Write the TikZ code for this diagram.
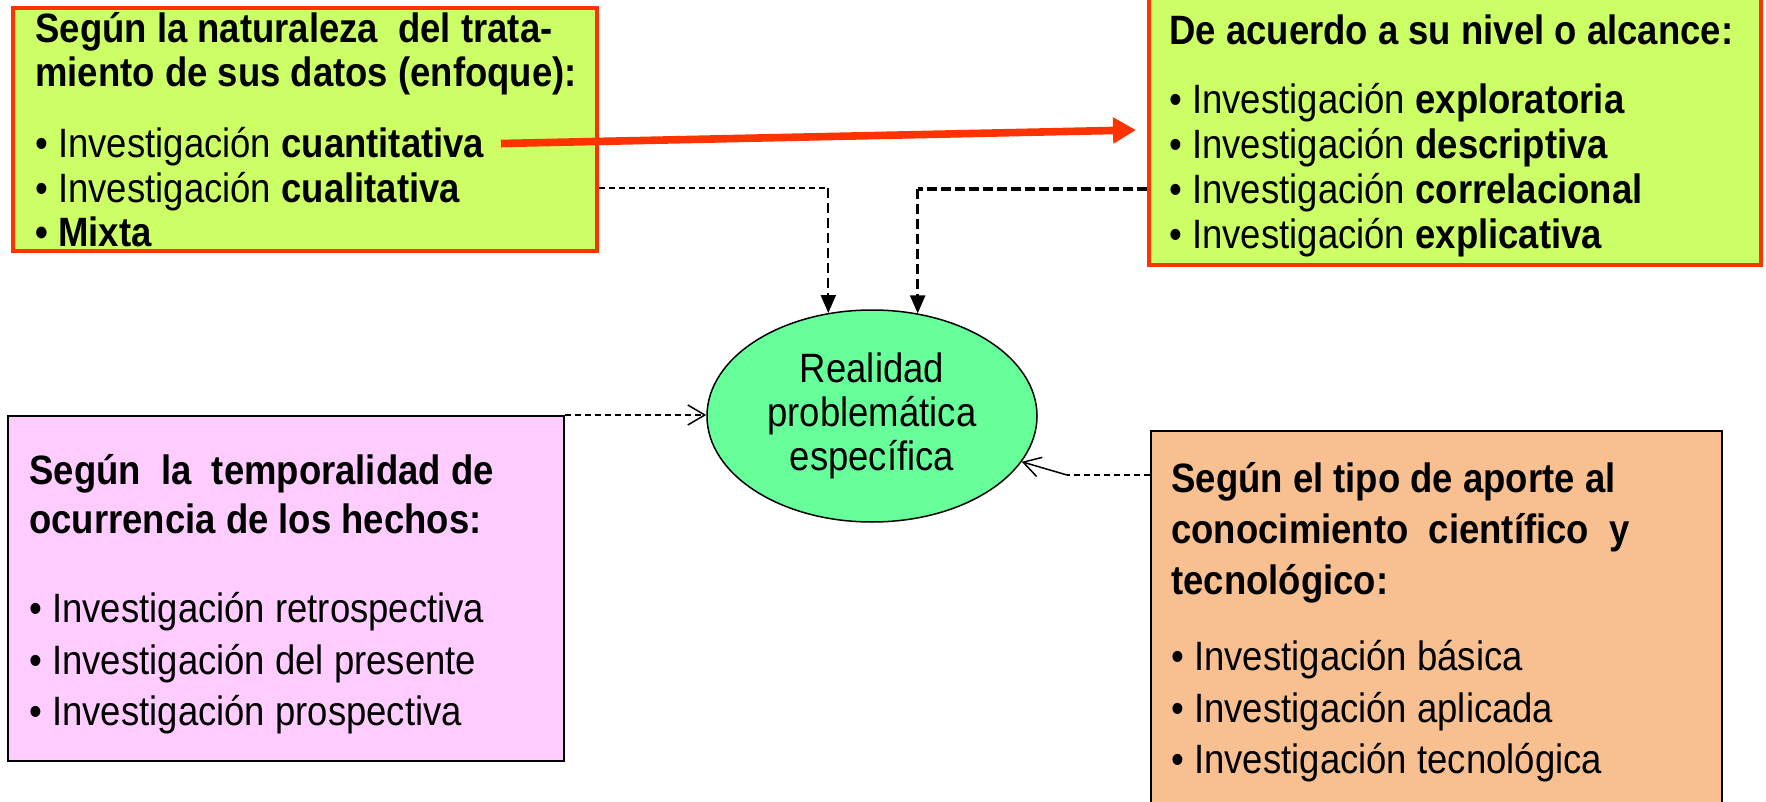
\documentclass[tikz,border=0pt]{standalone}
\usepackage{fontspec}
\setmainfont{Liberation Sans}[FakeStretch=0.89]
\usetikzlibrary{arrows.meta,shapes.geometric,calc}

\definecolor{limefill}{HTML}{CCFF66}
\definecolor{redline}{HTML}{FF3300}
\definecolor{pinkfill}{HTML}{FFCCFF}
\definecolor{peachfill}{HTML}{F8C090}
\definecolor{mintfill}{HTML}{66FF99}

\begin{document}
\begin{tikzpicture}[x=0.5pt,y=-0.5pt,
  txt/.style={anchor=base west, inner sep=0pt, font=\fontsize{20.5pt}{22pt}\selectfont},
  redbox/.style={draw=redline, line width=2pt, fill=limefill, inner sep=0pt},
  plainbox/.style={draw=black, line width=1pt, inner sep=0pt},
  ovalbox/.style={ellipse, draw=black, line width=0.75pt, fill=mintfill, inner sep=0pt,
    minimum width=165pt, minimum height=106pt, align=center,
    font=\fontsize{20.5pt}{22pt}\selectfont},
  thinh/.style={line width=1pt, dash pattern=on 3pt off 2pt},
  thinv/.style={line width=1pt, dash pattern=on 5pt off 2.5pt, -{Triangle[length=9pt,width=7.5pt]}},
  thickh/.style={line width=2pt, dash pattern=on 5pt off 2pt},
  sidelink/.style={line width=0.75pt, dash pattern=on 3pt off 2pt},
  barb/.style={-{Straight Barb[length=8.5pt,width=10pt]}},
  bigarrow/.style={draw=redline, line width=3.8pt, -{Triangle[length=11.5pt,width=12.5pt]}}
]
\useasboundingbox (0,0) rectangle (1766,802);

% boxes
\node[redbox, minimum width=292pt, minimum height=121.5pt] (box1) at (305,129.5) {};
\node[redbox, minimum width=306pt, minimum height=137.5pt] (box2) at (1455,127.5) {};
\node[plainbox, fill=pinkfill, minimum width=278pt, minimum height=172.5pt] (pink) at (286,588.5) {};
\node[plainbox, fill=peachfill, minimum width=285.5pt, minimum height=199.5pt] (peach) at (1436.5,630.5) {};
\node[ovalbox] (ell) at (872,416) {Realidad\\problemática\\específica};

% text of the top left box
\node[txt] (a1) at (35,43) {\bfseries Según la naturaleza~ del trata-};
\node[txt] (a2) at (35,87) {\bfseries miento de sus datos (enfoque):};
\node[txt] (a3) at (35,158) {• Investigación \textbf{cuantitativa}};
\node[txt] (a4) at (35,203) {• Investigación \textbf{cualitativa}};
\node[txt] (a5) at (35,247) {\bfseries • Mixta};

% text of the top right box
\node[txt] (b1) at (1169,45) {\bfseries De acuerdo a su nivel o alcance:};
\node[txt] (b2) at (1169,114) {• Investigación \textbf{exploratoria}};
\node[txt] (b3) at (1169,159) {• Investigación \textbf{descriptiva}};
\node[txt] (b4) at (1169,204) {• Investigación \textbf{correlacional}};
\node[txt] (b5) at (1169,249) {• Investigación \textbf{explicativa}};

% text of the pink box
\node[txt] (c1) at (29,484) {\bfseries Según~ la~ temporalidad de};
\node[txt] (c2) at (29,533) {\bfseries ocurrencia de los hechos:};
\node[txt] (c3) at (29,622) {• Investigación retrospectiva};
\node[txt] (c4) at (29,674) {• Investigación del presente};
\node[txt] (c5) at (29,725) {• Investigación prospectiva};

% text of the peach box
\node[txt] (d1) at (1171,492) {\bfseries Según el tipo de aporte al};
\node[txt] (d2) at (1171,543) {\bfseries conocimiento~ científico~ y};
\node[txt] (d3) at (1171,594) {\bfseries tecnológico:};
\node[txt] (d4) at (1171,670) {• Investigación básica};
\node[txt] (d5) at (1171,722) {• Investigación aplicada};
\node[txt] (d6) at (1171,773) {• Investigación tecnológica};

% dashed links into the oval
\coordinate (s1) at ($(box1.north east)!0.737!(box1.south east)$);
\coordinate (k1) at (s1 -| ell.113.3);
\draw[thinh] (s1) -- (k1);
\draw[thinv] (k1) -- (ell.113.3);

\coordinate (s2) at ($(box2.north west)!0.72!(box2.south west)$);
\coordinate (k2) at (s2 -| ell.66.7);
\draw[thickh] (s2) -- (k2);
\draw[thinv, line width=1.2pt] (k2) -- (ell.66.7);

\draw[sidelink, barb] (pink.north east) -- (pink.north east -| ell.west);

\coordinate (s4) at ($(peach.north west)+(0,45)$);
\coordinate (k4) at ($(s4)+(-83,0)$);
\draw[sidelink] (s4) -- (k4);
\draw[line width=0.75pt, barb] (k4) -- (ell.-17);

% red arrow between the two top boxes
\coordinate (r0) at (501,143.5);
\coordinate (r1) at (1136,130);
\draw[bigarrow] (r0) -- (r1);
\end{tikzpicture}
\end{document}
